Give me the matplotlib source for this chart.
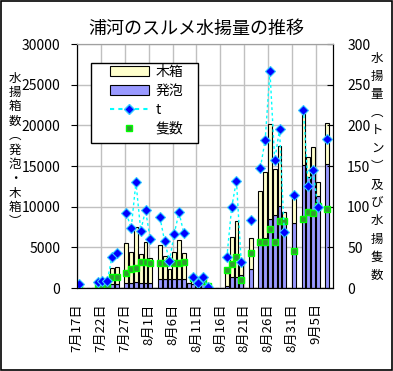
import numpy as np
import pandas as pd
import matplotlib
matplotlib.use("Agg")
import matplotlib.pyplot as plt
from matplotlib.lines import Line2D
from matplotlib.patches import Patch, Rectangle

plt.rcParams['font.family'] = ['Noto Sans CJK JP', 'DejaVu Sans']

# 日付 (7/17 から 9/8 まで)
dates = pd.date_range('2000-07-17', periods=53, freq='D')
n = np.nan

# 発泡 (箱)
happo = [0, n, n, n, 150, 150, 150, 550, 500, n,
         650, 650, 690, 600, 600, 600, n, 1050, 1050, 1050,
         1150, 1150, 1100, 600, 450, 300, 600, 100, n, n,
         n, 300, 1390, 1310, 1600, n, 2300, n, 6000, 6200,
         8500, 8980, 10130, 8400, n, 7950, n, 15130, 13700, 14000,
         11300, n, 15300]
# 木箱 (箱)
kibako = [200, n, n, n, 350, 350, 350, 1870, 2060, n,
          4930, 3780, 6770, 3560, 5020, 3050, n, 4180, 2910, 1270,
          3260, 4750, 3160, 0, 550, 200, 400, 100, n, n,
          n, 1500, 4940, 6930, 1330, n, 3790, n, 5900, 8100,
          11650, 5620, 7390, 1000, n, 3400, n, 7010, 2350, 3380,
          1780, n, 4960]
# 水揚量 (t)
ton = [4.5, n, n, n, 7, 8.6, 8.6, 38.5, 43.4, n,
       91.8, 73.4, 130, 70.5, 95.5, 60, n, 87.3, 57.4, 33.2,
       66.8, 93, 67.3, n, 13.2, 5.8, 14, 1, n, n,
       n, 37.7, 99, 132, 31.6, n, 83, n, 147.6, 182,
       266.5, 157, 195, 68.5, n, 114.4, n, 219, 125.5, 145,
       100, n, 183]
# 隻数
boats = [2, n, n, n, 3, 3, 3, 14, 14, n,
         18, 23, 25, 32, 32, 31, n, 31, 31, 33,
         31, 31, 32, n, 12, 10, 9, 2, n, n,
         n, 22, 30, 38, 10, n, 43, n, 57, 56,
         73, 56, 82, 82, n, 45, n, 85, 93, 92,
         101, n, 97]

happo = np.array(happo, dtype=float)
kibako = np.array(kibako, dtype=float)
x = np.arange(len(dates)) + 0.36

fig = plt.figure(figsize=(3.93, 3.71), dpi=100)
ax = fig.add_axes([76.8 / 393, 1 - 288 / 371, 256.5 / 393, 244 / 371])
ax2 = ax.twinx()

ax.set_axisbelow(True)
ax.grid(True, color='#c0c0c0', linewidth=1.0)

ax.bar(x, np.nan_to_num(happo), width=0.8, color='#9999ff', edgecolor='black', linewidth=0.8)
ax.bar(x, np.nan_to_num(kibako), width=0.8, bottom=np.nan_to_num(happo),
       color='#ffffcc', edgecolor='black', linewidth=0.8)

ax2.plot(x, boats, linestyle='none', marker='s', markersize=5,
         mfc='#339933', mec='#00ff00', mew=1.0)
ax2.plot(x, ton, linestyle=(0, (2, 2)), color='#00ffff', linewidth=1.0,
         marker='D', markersize=5.2, mfc='#0000ff', mec='#33ccff', mew=0.8)

ax.set_xlim(0, 53.6)
ax.set_ylim(0, 30000)
ax2.set_ylim(0, 300)
ax.set_yticks(range(0, 30001, 5000))
ax2.set_yticks(range(0, 301, 50))

ticks = list(range(0, 51, 5))
ax.set_xticks(ticks)
ax.set_xticklabels([f"{dates[i].month}月{dates[i].day}日" for i in ticks],
                   rotation=90, fontsize=9.5)
ax.tick_params(axis='x', length=0, pad=11)
ax.tick_params(axis='y', direction='out', length=4, pad=8, labelsize=10)
ax2.tick_params(axis='y', direction='in', length=4, pad=10, labelsize=10)

for a in (ax, ax2):
    a.spines['top'].set_color('#a0a0a0')
    a.spines['left'].set_color('black')
    a.spines['right'].set_color('black')
    a.spines['bottom'].set_color('black')

fig.text(196.5 / 393, 1 - 29 / 371, "浦河のスルメ水揚量の推移", ha='center', va='center', fontsize=13)

# 縦書きの軸ラベル
left_label = "水揚箱数︵発泡・木箱︶"
for k, ch in enumerate(left_label):
    fig.text(15 / 393, 1 - (78 + k * 14.4) / 371, ch, ha='center', va='center', fontsize=9)
right_label = "水揚量︵トン︶及び水揚隻数"
for k, ch in enumerate(right_label):
    fig.text(377 / 393, 1 - (58 + k * 18.1) / 371, ch, ha='center', va='center', fontsize=9)

# 凡例 (枠は別に描く)
handles = [Patch(facecolor='#ffffcc', edgecolor='black', linewidth=0.8),
           Patch(facecolor='#9999ff', edgecolor='black', linewidth=0.8),
           Line2D([], [], linestyle=(0, (2, 2)), color='#00ffff', marker='D', markersize=5.2,
                  mfc='#0000ff', mec='#33ccff'),
           Line2D([], [], linestyle='none', marker='s', markersize=5, mfc='#339933', mec='#00ff00')]
fig.legend(handles, ['木箱', '発泡', 't', '隻数'], loc='upper left',
           bbox_to_anchor=(110 / 393, 1 - 65 / 371), fontsize=10, frameon=False,
           handlelength=2.8, handleheight=0.7, handletextpad=0.45, labelspacing=0.35,
           borderpad=0, borderaxespad=0)
fig.patches.append(Rectangle((91 / 393, 1 - 143 / 371), 107 / 393, 80 / 371,
                             transform=fig.transFigure, facecolor='white',
                             edgecolor='black', linewidth=1.0, zorder=2.5))

fig.patches.append(Rectangle((0.002, 0.002), 0.996, 0.996, transform=fig.transFigure,
                             fill=False, edgecolor='black', linewidth=1.2))

fig.savefig('out.png', dpi=100)
